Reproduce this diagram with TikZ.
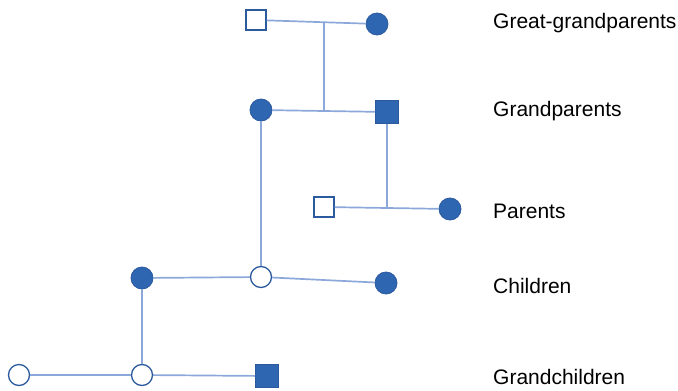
\documentclass[tikz,border=0pt]{standalone}
\usepackage{fontspec}
\setmainfont{Liberation Sans}
\usetikzlibrary{calc}
\definecolor{fillblue}{HTML}{2F66B2}
\definecolor{edgeblue}{HTML}{2B5A9E}
\definecolor{linkblue}{HTML}{8CA8DA}
\tikzset{
  x=1pt,y=-1pt,
  fcirc/.style={circle,draw=edgeblue,line width=0.8pt,fill=fillblue,minimum size=22pt,inner sep=0pt},
  ocirc/.style={circle,draw=edgeblue,line width=1.3pt,fill=white,minimum size=21pt,inner sep=0pt},
  fsq/.style={rectangle,draw=edgeblue,line width=0.8pt,fill=fillblue,minimum size=23pt,inner sep=0pt},
  osq/.style={rectangle,draw=edgeblue,line width=1.4pt,fill=white,minimum size=20pt,inner sep=0pt},
  link/.style={draw=linkblue,line width=1.7pt},
  gen/.style={anchor=west,font=\fontsize{21}{25}\selectfont,inner sep=0pt}
}
\begin{document}
\begin{tikzpicture}
\useasboundingbox (0,0) rectangle (678,391);
% great-grandparents
\node[osq] (ggf) at (256,20) {};
\node[fcirc] (ggm) at (377,24) {};
% grandparents
\node[fcirc] (gpm) at (261,110) {};
\node[fsq] (gpf) at (387,112) {};
% parents
\node[osq] (pf) at (324,207) {};
\node[fcirc] (pm) at (450,209) {};
% children
\node[fcirc] (c1) at (142,278) {};
\node[ocirc] (c2) at (261,277) {};
\node[fcirc] (c3) at (386,283) {};
% grandchildren
\node[ocirc] (g1) at (19,375) {};
\node[ocirc] (g2) at (142,375) {};
\node[fsq] (g3) at (267,376) {};
% junction points
\coordinate (m1) at ($(ggf)!0.5!(ggm)$);
\coordinate (m2) at ($(gpm)!0.5!(gpf)$);
\coordinate (m3) at ($(pf)!0.5!(pm)$);
% connectors
\draw[link] (ggf) -- (ggm);
\draw[link] (m2 |- m1) -- (m2);
\draw[link] (gpm) -- (gpf);
\draw[link] (gpf.south) -- (m3);
\draw[link] (pf) -- (pm);
\draw[link] (gpm) -- (c2);
\draw[link] (c1) -- (c2);
\draw[link] (c2) -- (c3);
\draw[link] (c1) -- (g2);
\draw[link] (g1) -- (g2);
\draw[link] (g2) -- (g3);
% labels
\node[gen] (l1) at (493,23) {Great-grandparents};
\node[gen] (l2) at (493,111) {Grandparents};
\node[gen] (l3) at (493,211) {Parents};
\node[gen] (l4) at (493,286) {Children};
\node[gen] (l5) at (493,377) {Grandchildren};
\end{tikzpicture}
\end{document}
